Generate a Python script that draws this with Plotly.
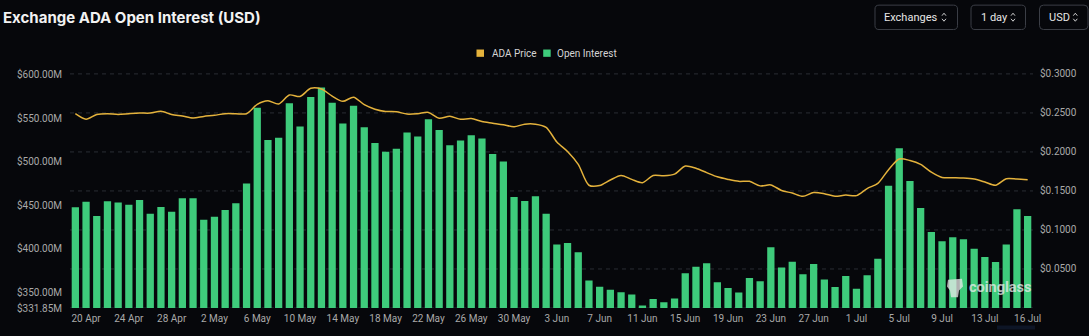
import plotly.graph_objects as go
import pandas as pd

# ---------------- data ----------------
dates = [d.strftime("%-d %b") for d in pd.date_range("2024-04-19", periods=90, freq="D")]

open_interest_musd = [
    447.7, 454.0, 437.6, 454.7, 453.3, 450.6, 456.2, 440.2, 448.0, 442.7,
    458.1, 458.1, 433.4, 436.8, 444.6, 452.5, 475.0, 562.2, 525.1, 527.7,
    567.3, 540.8, 574.5, 585.7, 568.1, 544.2, 564.7, 539.7, 521.8, 511.7,
    515.0, 533.7, 529.2, 549.0, 536.7, 519.0, 524.7, 530.7, 526.9, 509.0,
    500.4, 459.6, 455.1, 460.4, 440.2, 405.0, 406.5, 396.0, 363.5, 356.3,
    352.9, 350.0, 347.3, 334.7, 342.2, 338.4, 342.9, 371.7, 379.2, 383.3,
    361.6, 354.9, 349.6, 366.4, 362.7, 401.7, 378.4, 385.2, 370.6, 382.6,
    364.6, 356.0, 368.7, 354.1, 369.4, 388.5, 472.4, 515.7, 478.0, 446.9,
    419.2, 408.7, 413.2, 411.0, 400.1, 390.4, 384.8, 405.0, 445.4, 437.6,
]

ada_price = [
    0.2490, 0.2420, 0.2480, 0.2490, 0.2480, 0.2490, 0.2498, 0.2498, 0.2520, 0.2480,
    0.2460, 0.2435, 0.2455, 0.2470, 0.2490, 0.2490, 0.2490, 0.2610, 0.2656, 0.2615,
    0.2730, 0.2710, 0.2815, 0.2806, 0.2715, 0.2648, 0.2702, 0.2606, 0.2548, 0.2519,
    0.2515, 0.2485, 0.2490, 0.2506, 0.2431, 0.2456, 0.2419, 0.2427, 0.2390, 0.2369,
    0.2348, 0.2323, 0.2356, 0.2356, 0.2315, 0.2127, 0.2006, 0.1840, 0.1573, 0.1569,
    0.1640, 0.1698, 0.1648, 0.1606, 0.1698, 0.1694, 0.1715, 0.1819, 0.1790, 0.1735,
    0.1681, 0.1648, 0.1623, 0.1623, 0.1565, 0.1577, 0.1506, 0.1473, 0.1431, 0.1481,
    0.1465, 0.1431, 0.1448, 0.1440, 0.1531, 0.1598, 0.1773, 0.1910, 0.1890, 0.1840,
    0.1740, 0.1673, 0.1669, 0.1665, 0.1652, 0.1615, 0.1573, 0.1656, 0.1652, 0.1644,
]

x_tick_labels = ["20 Apr", "24 Apr", "28 Apr", "2 May", "6 May", "10 May", "14 May",
                 "18 May", "22 May", "26 May", "30 May", "3 Jun", "7 Jun", "11 Jun",
                 "15 Jun", "19 Jun", "23 Jun", "27 Jun", "1 Jul", "5 Jul", "9 Jul",
                 "13 Jul", "16 Jul"]
left_ticks_musd = [331.85, 350, 400, 450, 500, 550, 600]
right_ticks = [0.05, 0.10, 0.15, 0.20, 0.25, 0.30]
controls = ["Exchanges", "1 day", "USD"]

# ---------------- styling ----------------
BG = "#06070b"
GREEN = "#3ecb7b"
GOLD = "#e4b23c"
GRID = "#2a2d34"
TICK = "#a9a9a9"
W, H = 1089, 336
L, R, T, B = 70, 1033, 70, 314


def px(x):
    return (x - L) / (R - L)


def py(y):
    return (B - y) / (B - T)


tick_idx = list(range(1, len(dates) - 4, 4)) + [len(dates) - 1]
tickvals = [dates[i] for i in tick_idx]

fig = go.Figure()
fig.add_trace(go.Bar(
    x=dates, y=open_interest_musd, name="Open Interest",
    marker=dict(color=GREEN, line=dict(width=0)), yaxis="y",
    showlegend=False,
))
fig.add_trace(go.Scatter(
    x=dates, y=ada_price, name="ADA Price", mode="lines",
    line=dict(color=GOLD, width=1.5, shape="spline", smoothing=0.8),
    yaxis="y2", showlegend=False,
))

shapes = []
# dashed grid (right axis)
for v in [0.0] + right_ticks:
    shapes.append(dict(type="line", xref="paper", yref="y2", x0=0, x1=1, y0=v, y1=v,
                       line=dict(color=GRID, width=1, dash="4px,4px"), layer="below"))


def rounded_rect(x0, y0, x1, y1, r):
    # pixel coordinates -> paper path with rounded corners
    def P(x, y):
        return f"{px(x):.6f},{py(y):.6f}"
    return (f"M{P(x0 + r, y0)} L{P(x1 - r, y0)} Q{P(x1, y0)} {P(x1, y0 + r)} "
            f"L{P(x1, y1 - r)} Q{P(x1, y1)} {P(x1 - r, y1)} L{P(x0 + r, y1)} "
            f"Q{P(x0, y1)} {P(x0, y1 - r)} L{P(x0, y0 + r)} Q{P(x0, y0)} {P(x0 + r, y0)} Z")


annotations = []
# title
annotations.append(dict(text="<b>Exchange ADA Open Interest (USD)</b>", xref="paper", yref="paper",
                        x=px(1), y=py(16), xanchor="left", yanchor="middle", showarrow=False,
                        font=dict(family="Inter", size=15, color="#f2f2f2")))

# control buttons
boxes = [(875, 957.5, 882, 944), (971, 1025.5, 978.5, 1013), (1039.5, 1088, 1046.5, 1075.3)]
for label, (bx0, bx1, tx, cx) in zip(controls, boxes):
    shapes.append(dict(type="path", xref="paper", yref="paper",
                       path=rounded_rect(bx0, 3.5, bx1, 28.5, 4),
                       line=dict(color="#3b3e46", width=1), fillcolor="rgba(0,0,0,0)"))
    annotations.append(dict(text=label, xref="paper", yref="paper", x=px(tx), y=py(16),
                            xanchor="left", yanchor="middle", showarrow=False,
                            font=dict(family="Roboto", size=11, color="#e6e6e6")))
    up = f"M{px(cx - 2):.6f},{py(14.3):.6f} L{px(cx):.6f},{py(11.8):.6f} L{px(cx + 2):.6f},{py(14.3):.6f}"
    dn = f"M{px(cx - 2):.6f},{py(17.5):.6f} L{px(cx):.6f},{py(20):.6f} L{px(cx + 2):.6f},{py(17.5):.6f}"
    for p in (up, dn):
        shapes.append(dict(type="path", xref="paper", yref="paper", path=p,
                           line=dict(color="#cfcfcf", width=1)))

# manual legend
legend_items = [("ADA Price", GOLD, 476.5, 490), ("Open Interest", GREEN, 543.2, 555)]
for name, col, sx, tx in legend_items:
    shapes.append(dict(type="rect", xref="paper", yref="paper",
                       x0=px(sx), x1=px(sx + 7.5), y0=py(56.5), y1=py(49),
                       fillcolor=col, line=dict(width=0)))
    annotations.append(dict(text=name, xref="paper", yref="paper", x=px(tx), y=py(52.8),
                            xanchor="left", yanchor="middle", showarrow=False,
                            font=dict(family="Roboto", size=10, color="#d4d4d4")))

# watermark
annotations.append(dict(text="<b>coinglass</b>", xref="paper", yref="paper", x=px(967), y=py(292.5),
                        xanchor="left", yanchor="middle", showarrow=False,
                        font=dict(family="Roboto", size=14.5, color="rgba(235,235,235,0.75)")))
logo = (f"M{px(948):.6f},{py(285):.6f} L{px(962):.6f},{py(284):.6f} L{px(963):.6f},{py(292):.6f} "
        f"L{px(959):.6f},{py(296):.6f} L{px(958):.6f},{py(303):.6f} L{px(951):.6f},{py(303):.6f} "
        f"L{px(950):.6f},{py(296):.6f} L{px(947):.6f},{py(292):.6f} Z")
shapes.append(dict(type="path", xref="paper", yref="paper", path=logo,
                   fillcolor="rgba(235,235,235,0.75)", line=dict(width=0)))
# small scroll marker at bottom
shapes.append(dict(type="rect", xref="paper", yref="paper", x0=px(997), x1=px(1035),
                   y0=py(336), y1=py(332), fillcolor="#0d1526", line=dict(width=0)))

left_range_top = 331.85 + (B - T) / 0.891
right_range_top = (B - T) / 800.0

fig.update_layout(
    width=W, height=H,
    margin=dict(l=L, r=W - R, t=T, b=H - B, pad=0),
    paper_bgcolor=BG, plot_bgcolor=BG,
    bargap=0.32,
    showlegend=False,
    xaxis=dict(type="category", tickmode="array", tickvals=tickvals, ticktext=x_tick_labels,
               showgrid=False, zeroline=False, showline=False, ticks="",
               tickfont=dict(family="Roboto", size=10, color=TICK), ticklabelstandoff=3,
               range=[-0.5, len(dates) - 0.5], fixedrange=True),
    yaxis=dict(range=[331.85, left_range_top], tickmode="array", tickvals=left_ticks_musd,
               ticktext=[f"${v:.2f}M" for v in left_ticks_musd], showgrid=False,
               zeroline=False, showline=False, ticks="",
               tickfont=dict(family="Roboto", size=10, color=TICK), ticklabelstandoff=7),
    yaxis2=dict(range=[0, right_range_top], overlaying="y", side="right", tickmode="array",
                tickvals=right_ticks, ticktext=[f"${v:.4f}" for v in right_ticks],
                showgrid=False, zeroline=False, showline=False, ticks="",
                tickfont=dict(family="Roboto", size=10, color=TICK), ticklabelstandoff=6),
    shapes=shapes,
    annotations=annotations,
)

fig.write_html("out.html")
